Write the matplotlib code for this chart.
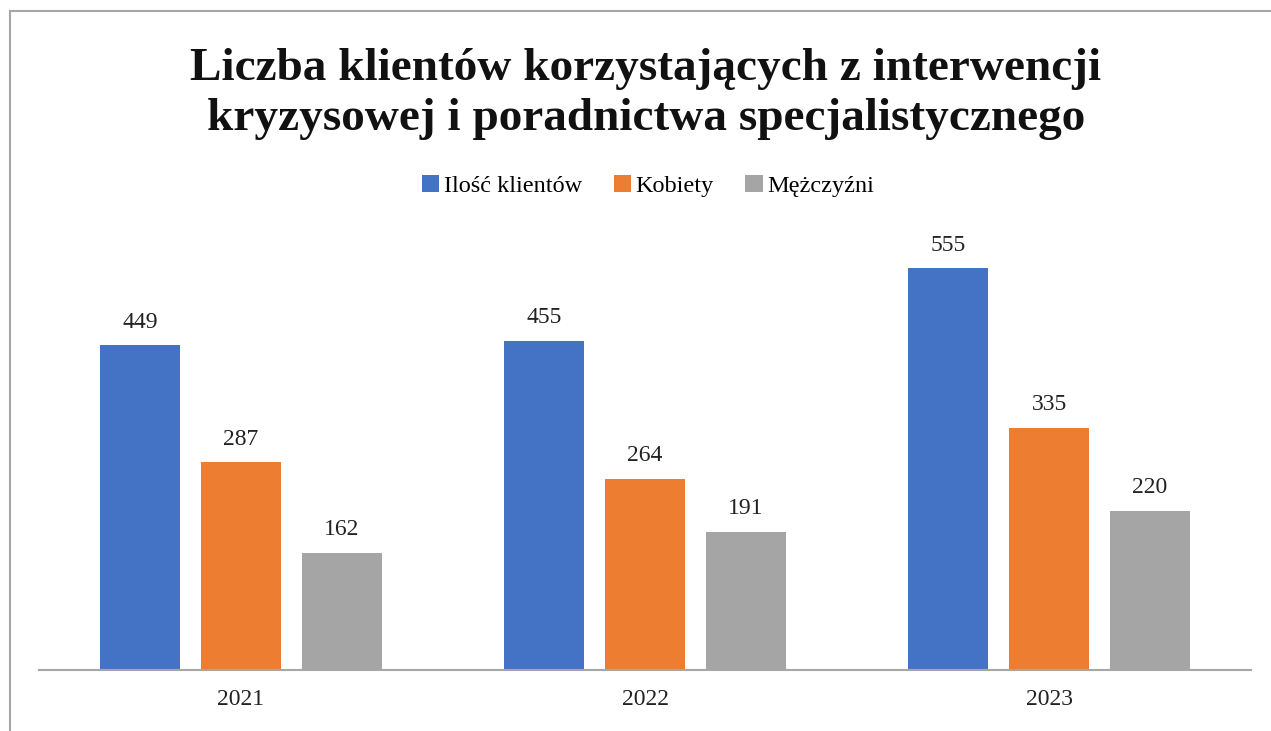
import numpy as np
import matplotlib.pyplot as plt
from matplotlib.lines import Line2D

years = ['2021', '2022', '2023']
series_names = ['Ilość klientów', 'Kobiety', 'Mężczyźni']
total = [449, 455, 555]
women = [287, 264, 335]
men = [162, 191, 220]
colors = ['#4472C4', '#ED7D31', '#A5A5A5']

plt.rcParams['font.family'] = ['Liberation Serif', 'DejaVu Serif']

fig = plt.figure(figsize=(12.71, 7.31), dpi=100)
ax = fig.add_axes([0.0307, 0.0834, 0.9536, 0.594])

x = np.arange(len(years))
w = 0.198
step = 0.25
for k, (vals, name, c) in enumerate(zip([total, women, men], series_names, colors)):
    bars = ax.bar(x + (k - 1) * step, vals, w, color=c, label=name, zorder=2)
    ax.bar_label(bars, labels=[str(v) for v in vals], padding=9, fontsize=17, color='#222222')

ax.set_xlim(-0.5, 2.5)
ax.set_ylim(0, 600)
ax.set_xticks(x)
ax.set_xticklabels(years, fontsize=17, color='#222222')
ax.tick_params(axis='x', length=0, pad=14)
ax.set_yticks([])
for s in ['top', 'right', 'left']:
    ax.spines[s].set_visible(False)
ax.spines['bottom'].set_color('#A6A6A6')
ax.spines['bottom'].set_linewidth(1.5)

fig.text(0.508, 0.871, 'Liczba klientów korzystających z interwencji\nkryzysowej i poradnictwa specjalistycznego',
         ha='center', va='center', fontsize=34, fontweight='bold', linespacing=1.25, color='#111111')

fig.legend(loc='center', bbox_to_anchor=(0.51, 0.745), ncol=3, frameon=False, fontsize=17.5,
           handlelength=0.7, handleheight=0.7, handletextpad=0.2, columnspacing=1.3)

# outer chart border (left and top only visible)
fig.add_artist(Line2D([10 / 1271, 10 / 1271], [0, 1 - 11 / 731], transform=fig.transFigure, color='#A6A6A6', lw=1.5))
fig.add_artist(Line2D([10 / 1271, 1], [1 - 11 / 731, 1 - 11 / 731], transform=fig.transFigure, color='#A6A6A6', lw=1.5))

fig.savefig('out.png', dpi=100, facecolor='white')
